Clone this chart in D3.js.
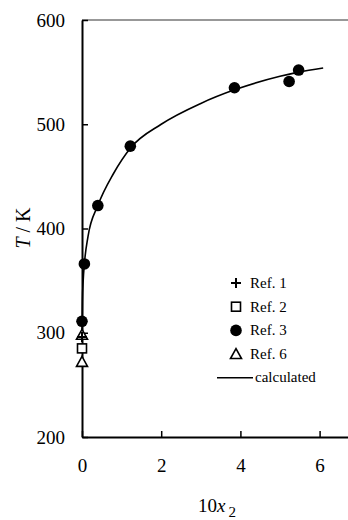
<!DOCTYPE html>
<html>
<head>
<meta charset="utf-8">
<script src="https://cdn.jsdelivr.net/npm/d3@7/dist/d3.min.js"></script>
<style>
  html, body { margin: 0; padding: 0; background: #fff; }
  svg, svg text { font-family: "Liberation Serif", "DejaVu Serif", "Times New Roman", serif !important; }
</style>
</head>
<body>
<script>
// Solubility temperature T vs. 10·x2 — experimental references and the calculated curve
const xTicks = [0, 2, 4, 6];
const yTicks = [200, 300, 400, 500, 600];

const ref1 = [[0.0, 296]];
const ref2 = [[0.0, 285]];
const ref3 = [[0.0, 311], [0.06, 366], [0.40, 422], [1.22, 479], [3.85, 535], [5.23, 541], [5.47, 552]];
const ref6 = [[0.0, 298], [0.0, 272]];
const calculated = [
  [0.0, 300], [0.01, 330], [0.03, 350], [0.06, 366], [0.15, 392], [0.40, 422],
  [0.80, 453], [1.22, 477], [2.0, 500], [3.0, 520], [3.85, 533], [5.0, 546],
  [5.47, 550], [6.09, 554]
];

const legendItems = [
  { label: "Ref. 1", type: "plus" },
  { label: "Ref. 2", type: "square" },
  { label: "Ref. 3", type: "circle" },
  { label: "Ref. 6", type: "triangle" },
  { label: "calculated", type: "line" }
];

const W = 348, H = 520;
const margin = { left: 82, top: 20, bottom: 83 };
const serif = '"Liberation Serif", "DejaVu Serif", serif';

const svg = d3.select("body").append("svg")
  .attr("width", W).attr("height", H);

svg.append("rect").attr("width", W).attr("height", H).attr("fill", "#fff");

const x = d3.scaleLinear().domain([0, 7]).range([margin.left, margin.left + 7 * 39.6]);
const y = d3.scaleLinear().domain([200, 600]).range([H - margin.bottom, margin.top]);

// frame top edge
svg.append("line")
  .attr("x1", x(0)).attr("x2", x(7))
  .attr("y1", y(600)).attr("y2", y(600))
  .attr("stroke", "#333").attr("stroke-width", 1.2);

// y axis
const yAxis = svg.append("g")
  .attr("transform", `translate(${x(0)},0)`)
  .call(d3.axisLeft(y).tickValues(yTicks).tickSizeInner(-6).tickSizeOuter(0).tickPadding(17).tickFormat(d3.format("d")));
yAxis.attr("font-family", null).attr("font-size", null);
yAxis.select(".domain").attr("stroke", "#000").attr("stroke-width", 2);
yAxis.selectAll(".tick line").attr("stroke", "#000").attr("stroke-width", 1.5);
yAxis.selectAll(".tick text").style("font-size", "19px").style("font-family", serif).attr("fill", "#000");

// x axis
const xAxis = svg.append("g")
  .attr("transform", `translate(0,${y(200)})`)
  .call(d3.axisBottom(x).tickValues(xTicks).tickSizeInner(-6).tickSizeOuter(0).tickPadding(22).tickFormat(d3.format("d")));
xAxis.attr("font-family", null).attr("font-size", null);
xAxis.select(".domain").attr("stroke", "#000").attr("stroke-width", 2);
xAxis.selectAll(".tick line").attr("stroke", "#000").attr("stroke-width", 1.5);
xAxis.selectAll(".tick text").style("font-size", "19px").style("font-family", serif).attr("fill", "#000");

// axis titles
const xTitle = svg.append("text")
  .attr("x", 198).attr("y", 512)
  .style("font-size", "19px").style("font-family", serif).attr("fill", "#000");
xTitle.append("tspan").text("10");
xTitle.append("tspan").attr("font-style", "italic").text("x");
xTitle.append("tspan").attr("dx", 3).attr("dy", 5).style("font-size", "15px").text("2");

const yTitle = svg.append("text")
  .attr("transform", "translate(30,228) rotate(-90)")
  .attr("text-anchor", "middle")
  .style("font-size", "20px").style("font-family", serif).attr("fill", "#000");
yTitle.append("tspan").attr("font-style", "italic").text("T");
yTitle.append("tspan").text(" / K");

// calculated curve
const line = d3.line()
  .x(d => x(d[0])).y(d => y(d[1]))
  .curve(d3.curveMonotoneX);
svg.append("path")
  .datum(calculated)
  .attr("d", line)
  .attr("fill", "none").attr("stroke", "#000").attr("stroke-width", 1.6);

// marker drawing
function drawMarker(g, type, cx, cy) {
  if (type === "circle") {
    g.append("circle").attr("cx", cx).attr("cy", cy).attr("r", 5.8).attr("fill", "#000");
  } else if (type === "square") {
    g.append("rect").attr("x", cx - 4.5).attr("y", cy - 4.5).attr("width", 9).attr("height", 9)
      .attr("fill", "#fff").attr("stroke", "#000").attr("stroke-width", 1.6);
  } else if (type === "triangle") {
    const s = 5.5;
    g.append("path")
      .attr("d", `M${cx},${cy - s} L${cx + s},${cy + s * 0.8} L${cx - s},${cy + s * 0.8} Z`)
      .attr("fill", "#fff").attr("stroke", "#000").attr("stroke-width", 1.6);
  } else if (type === "plus") {
    g.append("path")
      .attr("d", `M${cx - 5},${cy} H${cx + 5} M${cx},${cy - 5} V${cy + 5}`)
      .attr("stroke", "#000").attr("stroke-width", 2);
  }
}

const marks = svg.append("g");
ref6.forEach(d => drawMarker(marks, "triangle", x(d[0]), y(d[1])));
ref2.forEach(d => drawMarker(marks, "square", x(d[0]), y(d[1])));
ref1.forEach(d => drawMarker(marks, "plus", x(d[0]), y(d[1])));
ref3.forEach(d => drawMarker(marks, "circle", x(d[0]), y(d[1])));

// legend
const legend = svg.append("g");
legendItems.forEach((item, i) => {
  const cy = 283 + i * 23.7;
  if (item.type === "line") {
    legend.append("line").attr("x1", 217).attr("x2", 253).attr("y1", cy).attr("y2", cy)
      .attr("stroke", "#000").attr("stroke-width", 1.6);
    legend.append("text").attr("x", 255).attr("y", cy + 4.5)
      .style("font-size", "15px").style("font-family", serif).attr("fill", "#000").text(item.label);
  } else {
    drawMarker(legend, item.type, 236, cy);
    legend.append("text").attr("x", 250).attr("y", cy + 5)
      .style("font-size", "15px").style("font-family", serif).attr("fill", "#000").text(item.label);
  }
});
</script>
</body>
</html>
